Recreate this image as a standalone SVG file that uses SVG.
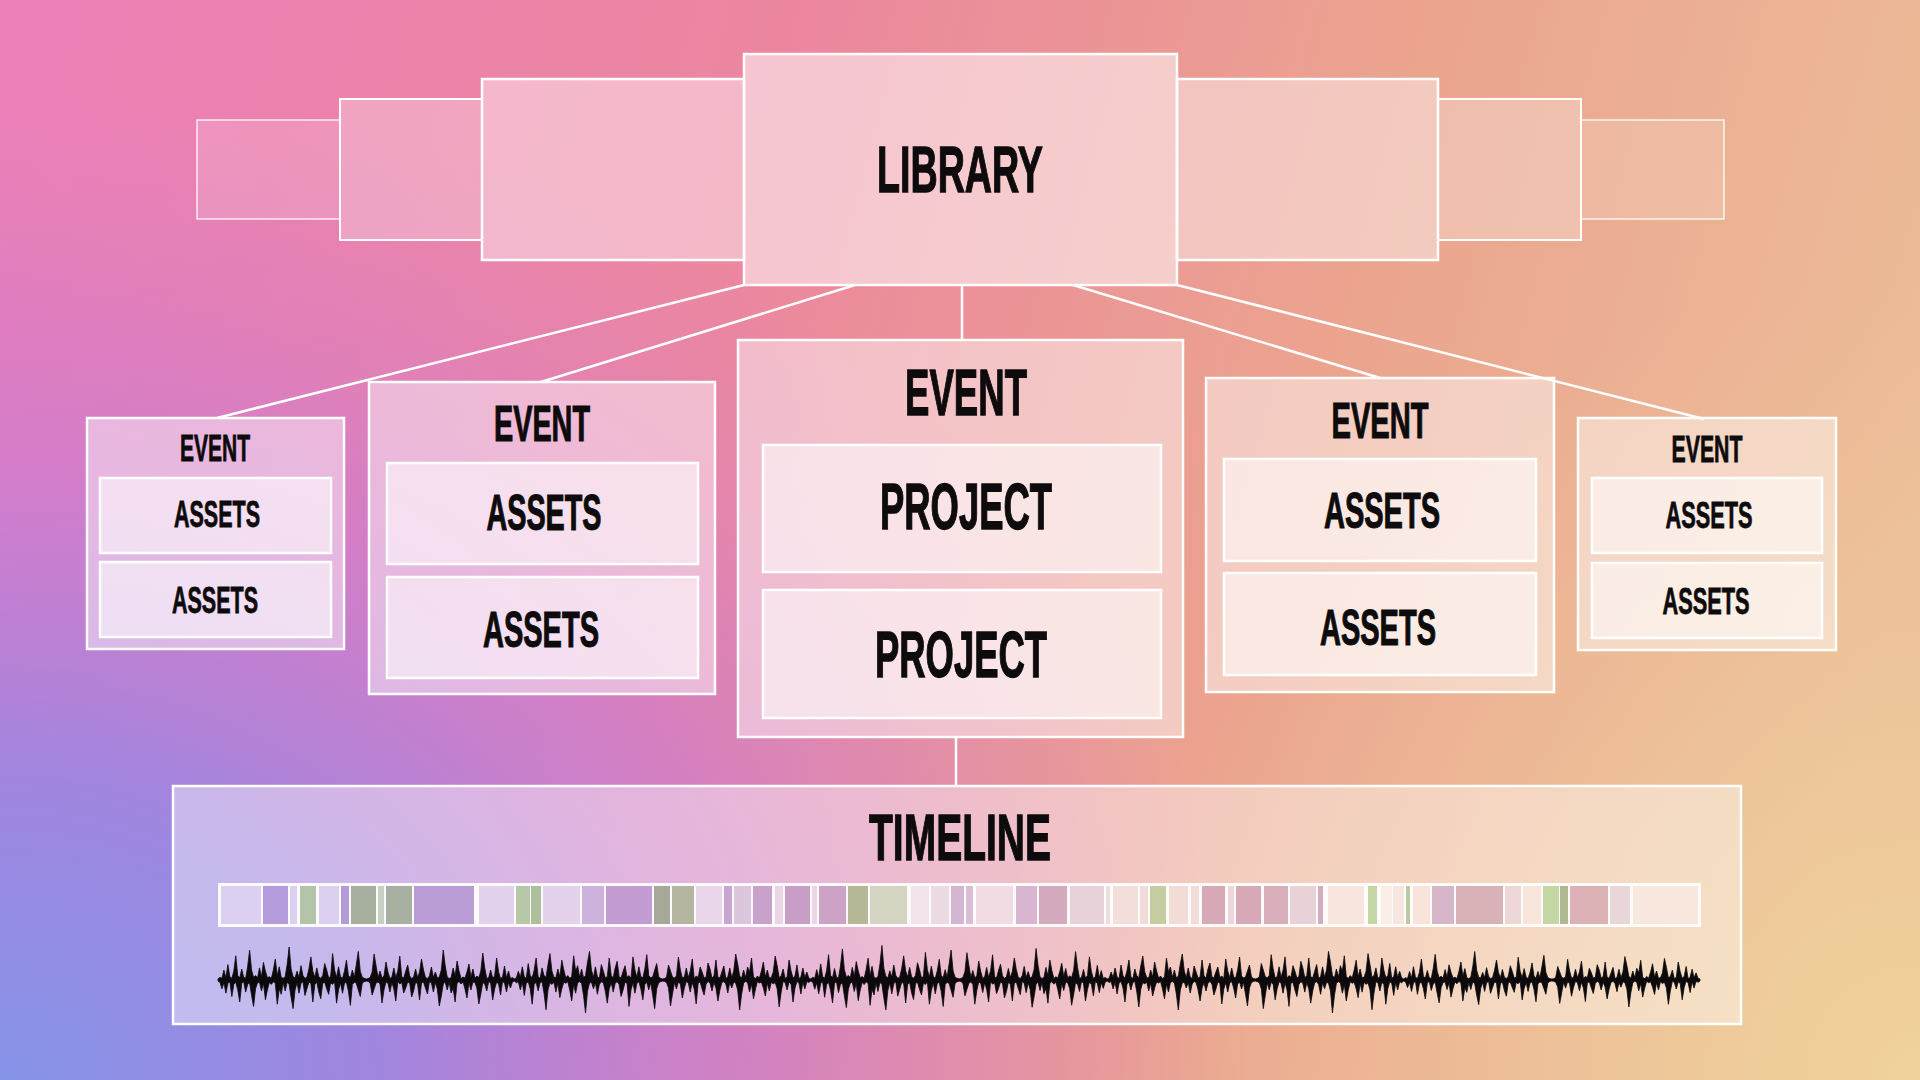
<svg xmlns="http://www.w3.org/2000/svg" xmlns:xlink="http://www.w3.org/1999/xlink" width="1920" height="1080" viewBox="0 0 1920 1080">
<defs>
<linearGradient id="bgBase" gradientUnits="userSpaceOnUse" x1="0" y1="0" x2="1920" y2="500">
<stop offset="0" stop-color="#ec7fb8"/>
<stop offset="0.4" stop-color="#ec879e"/>
<stop offset="0.7" stop-color="#eba48e"/>
<stop offset="1" stop-color="#ecbd98"/>
</linearGradient>
<radialGradient id="bgViolet" gradientUnits="userSpaceOnUse" cx="0" cy="1080" r="1000" gradientTransform="translate(0 1080) scale(1.25 1) translate(0 -1080)">
<stop offset="0" stop-color="#8594e8" stop-opacity="1"/>
<stop offset="0.3" stop-color="#9c86e2" stop-opacity="0.95"/>
<stop offset="0.6" stop-color="#c47ad8" stop-opacity="0.65"/>
<stop offset="1" stop-color="#d87cc8" stop-opacity="0"/>
</radialGradient>
<radialGradient id="bgWarm" gradientUnits="userSpaceOnUse" cx="1920" cy="1080" r="800">
<stop offset="0" stop-color="#f0d49c" stop-opacity="0.95"/>
<stop offset="1" stop-color="#eec49a" stop-opacity="0"/>
</radialGradient>
<path id="wave" fill="#0b090b" stroke="#0b090b" stroke-width="0.8" stroke-linejoin="round" vector-effect="non-scaling-stroke" d="M0,-1 L2,-2.5 L4,-1.5 L6,-9 L8,-2 L10,-14 L12,-3 L14,-1.5 L16,-8 L18,-22 L20,-4 L22,-2 L24,-10 L26,-2.5 L28,-1.5 L30,-12 L32,-27 L34,-9 L36,-2.5 L38,-4 L40,-2 L42,-11 L44,-3 L46,-16 L48,-8 L50,-2 L52,-3 L54,-1.5 L56,-9 L58,-19 L60,-4 L62,-12 L64,-2.5 L66,-1.5 L68,-3 L70,-14 L72,-30 L74,-10 L76,-3 L78,-2 L80,-8 L82,-2.5 L84,-13 L86,-4 L88,-1.5 L90,-2.5 L92,-10 L94,-21 L96,-8 L98,-2.5 L100,-11 L102,-3 L104,-1.5 L106,-4 L108,-15 L110,-9 L112,-2 L114,-3 L116,-24 L118,-9 L120,-2.5 L122,-12 L124,-3 L126,-1.5 L128,-8 L130,-18 L132,-4 L134,-2 L136,-9 L138,-2.5 L140,-14 L142,-26 L144,-8 L146,-2.5 L148,-1.5 L150,-1 L150,1 L148,1.5 L146,3 L144,15 L142,9 L140,3 L138,2 L136,4 L134,23 L132,10 L130,2 L128,3 L126,12 L124,2.5 L122,9 L120,21 L118,1.5 L116,4 L114,2.5 L112,13 L110,8 L108,2 L106,3 L104,17 L102,11 L100,2 L98,4 L96,20 L94,3 L92,2 L90,8 L88,14 L86,1.5 L84,3 L82,12 L80,2.5 L78,9 L76,26 L74,16 L72,4 L70,2 L68,10 L66,2.5 L64,13 L62,8 L60,22 L58,3 L56,1.5 L54,4 L52,2 L50,9 L48,18 L46,3 L44,10 L42,2 L40,2.5 L38,8 L36,24 L34,14 L32,2.5 L30,4 L28,11 L26,1.5 L24,3 L22,20 L20,9 L18,2 L16,4 L14,15 L12,1.5 L10,3 L8,12 L6,2.5 L4,8 L2,2 L0,1 Z"/>
</defs>
<style>
.far{fill:#ffffff;fill-opacity:0.15;stroke:#ffffff;stroke-opacity:0.85;stroke-width:1.5}
.mid{fill:#ffffff;fill-opacity:0.27;stroke:#ffffff;stroke-width:2}
.near{fill:#ffffff;fill-opacity:0.42;stroke:#ffffff;stroke-width:2.5}
.main{fill:#ffffff;fill-opacity:0.52;stroke:#ffffff;stroke-width:2.5}
.ev{fill:#ffffff;fill-opacity:0.45;stroke:#ffffff;stroke-width:2.5}
.in{fill:#ffffff;fill-opacity:0.55;stroke:#ffffff;stroke-width:2.5}
.tl{fill:#ffffff;fill-opacity:0.42;stroke:#ffffff;stroke-width:2.5}
.conn{stroke:#ffffff;stroke-width:2.5;fill:none}
.t{font-family:"Liberation Sans",Arial,sans-serif;font-weight:bold;fill:#0e0b0d;stroke:#0e0b0d;text-anchor:middle}
.big{font-size:65px;stroke-width:1.3}
.med{font-size:50px;stroke-width:1.1}
.sm{font-size:37px;stroke-width:0.8}
</style>
<g id="background">
<rect x="0" y="0" width="1920" height="1080" fill="url(#bgBase)"/>
<rect x="0" y="0" width="1920" height="1080" fill="url(#bgViolet)"/>
<rect x="0" y="0" width="1920" height="1080" fill="url(#bgWarm)"/>
</g>
<g id="connectors">
<line class="conn" x1="744" y1="285" x2="217" y2="418"/>
<line class="conn" x1="855" y1="285" x2="541" y2="382"/>
<line class="conn" x1="962" y1="285" x2="962" y2="340"/>
<line class="conn" x1="1073" y1="285" x2="1380" y2="378"/>
<line class="conn" x1="1177" y1="285" x2="1704" y2="419"/>
<line class="conn" x1="956" y1="737" x2="956" y2="786"/>
</g>
<g id="library">
<rect class="far" x="197" y="120" width="143" height="99"/>
<rect class="mid" x="340" y="99" width="142" height="141"/>
<rect class="near" x="482" y="79" width="262" height="181"/>
<rect class="far" x="1581" y="120" width="143" height="99"/>
<rect class="mid" x="1438" y="99" width="143" height="141"/>
<rect class="near" x="1177" y="79" width="261" height="181"/>
<rect class="main" x="744" y="54" width="433" height="231"/>
<text class="t big" x="960" y="192" textLength="166" lengthAdjust="spacingAndGlyphs">LIBRARY</text>
</g>
<g id="event-1">
<rect class="ev" x="87" y="418" width="257" height="231"/>
<text class="t sm" x="215" y="461" textLength="70" lengthAdjust="spacingAndGlyphs">EVENT</text>
<rect class="in" x="100" y="478" width="231" height="75"/>
<text class="t sm" x="217" y="527" textLength="86" lengthAdjust="spacingAndGlyphs">ASSETS</text>
<rect class="in" x="100" y="562" width="231" height="75"/>
<text class="t sm" x="215" y="613" textLength="86" lengthAdjust="spacingAndGlyphs">ASSETS</text>
</g>
<g id="event-2">
<rect class="ev" x="369" y="382" width="346" height="312"/>
<text class="t med" x="542" y="441" textLength="96" lengthAdjust="spacingAndGlyphs">EVENT</text>
<rect class="in" x="387" y="463" width="311" height="101"/>
<text class="t med" x="544" y="530" textLength="115" lengthAdjust="spacingAndGlyphs">ASSETS</text>
<rect class="in" x="387" y="577" width="311" height="101"/>
<text class="t med" x="541" y="647" textLength="116" lengthAdjust="spacingAndGlyphs">ASSETS</text>
</g>
<g id="event-3">
<rect class="ev" x="738" y="340" width="445" height="397"/>
<text class="t big" x="966" y="415" textLength="122" lengthAdjust="spacingAndGlyphs">EVENT</text>
<rect class="in" x="763" y="445" width="398" height="127"/>
<text class="t big" x="966" y="529" textLength="172" lengthAdjust="spacingAndGlyphs">PROJECT</text>
<rect class="in" x="763" y="590" width="398" height="128"/>
<text class="t big" x="961" y="677" textLength="172" lengthAdjust="spacingAndGlyphs">PROJECT</text>
</g>
<g id="event-4">
<rect class="ev" x="1206" y="378" width="348" height="314"/>
<text class="t med" x="1380" y="438" textLength="97" lengthAdjust="spacingAndGlyphs">EVENT</text>
<rect class="in" x="1224" y="459" width="312" height="102"/>
<text class="t med" x="1382" y="528" textLength="116" lengthAdjust="spacingAndGlyphs">ASSETS</text>
<rect class="in" x="1224" y="573" width="312" height="102"/>
<text class="t med" x="1378" y="645" textLength="116" lengthAdjust="spacingAndGlyphs">ASSETS</text>
</g>
<g id="event-5">
<rect class="ev" x="1578" y="418" width="258" height="232"/>
<text class="t sm" x="1707" y="462" textLength="71" lengthAdjust="spacingAndGlyphs">EVENT</text>
<rect class="in" x="1592" y="478" width="230" height="75"/>
<text class="t sm" x="1709" y="528" textLength="87" lengthAdjust="spacingAndGlyphs">ASSETS</text>
<rect class="in" x="1592" y="563" width="230" height="75"/>
<text class="t sm" x="1706" y="614" textLength="87" lengthAdjust="spacingAndGlyphs">ASSETS</text>
</g>
<g id="timeline">
<rect class="tl" x="173" y="786" width="1568" height="238"/>
<text class="t big" x="960" y="860" textLength="182" lengthAdjust="spacingAndGlyphs">TIMELINE</text>
<rect x="218" y="883" width="1483" height="44" fill="#ffffff" fill-opacity="0.92"/>
<g id="clips">
<rect x="221" y="886" width="40" height="38" fill="#dcd0f2"/>
<rect x="263" y="886" width="25" height="38" fill="#b49cdc"/>
<rect x="290" y="886" width="7" height="38" fill="#dcd0f0"/>
<rect x="300" y="886" width="16" height="38" fill="#b4c4a8"/>
<rect x="319" y="886" width="20" height="38" fill="#dcd0f0"/>
<rect x="341" y="886" width="8" height="38" fill="#b49cd8"/>
<rect x="351" y="886" width="25" height="38" fill="#a6ae9e"/>
<rect x="378" y="886" width="6" height="38" fill="#c8d0c4"/>
<rect x="386" y="886" width="26" height="38" fill="#a8b0a2"/>
<rect x="414" y="886" width="60" height="38" fill="#ba9cd6"/>
<rect x="479" y="886" width="35" height="38" fill="#e2d2ee"/>
<rect x="516" y="886" width="14" height="38" fill="#b6c8a8"/>
<rect x="531" y="886" width="10" height="38" fill="#aebf9e"/>
<rect x="543" y="886" width="37" height="38" fill="#e4d2ec"/>
<rect x="582" y="886" width="22" height="38" fill="#cdb2de"/>
<rect x="606" y="886" width="46" height="38" fill="#c29cd2"/>
<rect x="654" y="886" width="16" height="38" fill="#a6a898"/>
<rect x="672" y="886" width="22" height="38" fill="#b4b6a0"/>
<rect x="696" y="886" width="26" height="38" fill="#ead6ea"/>
<rect x="724" y="886" width="8" height="38" fill="#c8a6d2"/>
<rect x="734" y="886" width="17" height="38" fill="#dcc6de"/>
<rect x="753" y="886" width="19" height="38" fill="#c8a2ca"/>
<rect x="775" y="886" width="8" height="38" fill="#ead6e6"/>
<rect x="785" y="886" width="25" height="38" fill="#c89ec6"/>
<rect x="812" y="886" width="5" height="38" fill="#ead6e4"/>
<rect x="819" y="886" width="27" height="38" fill="#cca2c6"/>
<rect x="848" y="886" width="20" height="38" fill="#b4b896"/>
<rect x="870" y="886" width="37" height="38" fill="#d4d4c2"/>
<rect x="911" y="886" width="18" height="38" fill="#f2e2ea"/>
<rect x="931" y="886" width="18" height="38" fill="#ecdae2"/>
<rect x="951" y="886" width="13" height="38" fill="#d4b6d2"/>
<rect x="966" y="886" width="7" height="38" fill="#dabed6"/>
<rect x="976" y="886" width="37" height="38" fill="#f0dce2"/>
<rect x="1016" y="886" width="21" height="38" fill="#d8b6d2"/>
<rect x="1039" y="886" width="28" height="38" fill="#d4aabe"/>
<rect x="1070" y="886" width="34" height="38" fill="#e8d2da"/>
<rect x="1106" y="886" width="4" height="38" fill="#f0dcde"/>
<rect x="1113" y="886" width="25" height="38" fill="#f4dedc"/>
<rect x="1140" y="886" width="8" height="38" fill="#f0dcda"/>
<rect x="1150" y="886" width="16" height="38" fill="#c4cea0"/>
<rect x="1169" y="886" width="19" height="38" fill="#f4dcd6"/>
<rect x="1191" y="886" width="8" height="38" fill="#f2dcd8"/>
<rect x="1202" y="886" width="23" height="38" fill="#d8aab8"/>
<rect x="1228" y="886" width="6" height="38" fill="#eed6da"/>
<rect x="1236" y="886" width="25" height="38" fill="#d8aab8"/>
<rect x="1264" y="886" width="24" height="38" fill="#d8aeba"/>
<rect x="1290" y="886" width="26" height="38" fill="#e8d2d8"/>
<rect x="1318" y="886" width="5" height="38" fill="#d4aebe"/>
<rect x="1328" y="886" width="36" height="38" fill="#f8e6de"/>
<rect x="1368" y="886" width="9" height="38" fill="#c4d6a6"/>
<rect x="1381" y="886" width="11" height="38" fill="#faeee6"/>
<rect x="1393" y="886" width="11" height="38" fill="#f6e6e0"/>
<rect x="1406" y="886" width="4" height="38" fill="#bccaa2"/>
<rect x="1413" y="886" width="17" height="38" fill="#f8e4da"/>
<rect x="1432" y="886" width="22" height="38" fill="#d8b6ca"/>
<rect x="1456" y="886" width="47" height="38" fill="#d8b2b6"/>
<rect x="1505" y="886" width="16" height="38" fill="#ecd6d8"/>
<rect x="1523" y="886" width="18" height="38" fill="#f8e6da"/>
<rect x="1543" y="886" width="16" height="38" fill="#c4d6a2"/>
<rect x="1560" y="886" width="8" height="38" fill="#b0b892"/>
<rect x="1570" y="886" width="38" height="38" fill="#dcb2b6"/>
<rect x="1610" y="886" width="20" height="38" fill="#e8d6d8"/>
<rect x="1633" y="886" width="65" height="38" fill="#f8e8de"/>
</g>
<g id="waveform">
<use xlink:href="#wave" href="#wave" transform="translate(218 980) scale(0.988 1.1)"/>
<use xlink:href="#wave" href="#wave" transform="translate(514.4 980) scale(-0.988 1.0)"/>
<use xlink:href="#wave" href="#wave" transform="translate(514.4 980) scale(0.988 -1.1)"/>
<use xlink:href="#wave" href="#wave" transform="translate(810.8 980) scale(-0.988 -1.0)"/>
<use xlink:href="#wave" href="#wave" transform="translate(810.8 980) scale(0.988 1.15)"/>
<use xlink:href="#wave" href="#wave" transform="translate(1107.2 980) scale(-0.988 1.05)"/>
<use xlink:href="#wave" href="#wave" transform="translate(1107.2 980) scale(0.988 -1.0)"/>
<use xlink:href="#wave" href="#wave" transform="translate(1403.6 980) scale(-0.988 -1.1)"/>
<use xlink:href="#wave" href="#wave" transform="translate(1403.6 980) scale(0.988 0.95)"/>
<use xlink:href="#wave" href="#wave" transform="translate(1700 980) scale(-0.988 -0.9)"/>
</g>
</g>
</svg>
